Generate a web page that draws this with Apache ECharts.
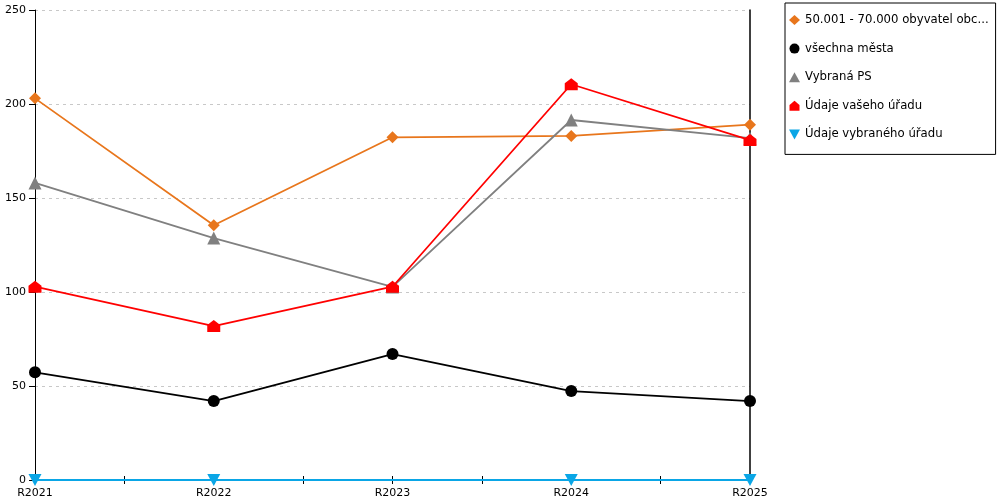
<!DOCTYPE html>
<html>
<head>
<meta charset="utf-8">
<script src="https://cdn.jsdelivr.net/npm/echarts@6/dist/echarts.min.js"></script>
<style>
html,body{margin:0;padding:0;background:#fff;}
#chart{width:1000px;height:500px;}
</style>
</head>
<body>
<div id="chart"></div>
<script>
const categories = ['R2021', 'R2022', 'R2023', 'R2024', 'R2025'];
const seriesNames = [
  '50.001 - 70.000 obyvatel obc...',
  'všechna města',
  'Vybraná PS',
  'Údaje vašeho úřadu',
  'Údaje vybraného úřadu'
];
const obceValues = [203, 135.5, 182.3, 183, 189];
const mestaValues = [57.3, 42, 67, 47.3, 42];
const psValues = [158, 128.7, 102.7, 191.5, 181.8];
const vasValues = [102.8, 81.9, 102.8, 210.5, 180.8];
const vybranyValues = [0, 0, null, 0, 0];
const yTicks = { min: 0, max: 250, interval: 50 };

const FONT = 'DejaVu Sans';
const colors = ['#E8761C', '#000000', '#808080', '#FF0000', '#0AA6E6'];
const symbols = [
  'diamond',
  'circle',
  'triangle',
  'path://M0,5 L6,0 L12,5 L12,12 L0,12 Z',
  'path://M0,0 L12,0 L6,11 Z'
];
const symbolSizes = [12, 12, 13, [13, 12], [13, 12]];
const valueSets = [obceValues, mestaValues, psValues, vasValues, vybranyValues];

// helper axis with slots at every category and every midpoint (for tick marks)
const tickSlots = [];
categories.forEach((c, i) => {
  tickSlots.push(c);
  if (i < categories.length - 1) tickSlots.push(c + '_mid');
});

const chart = echarts.init(document.getElementById('chart'), null, { renderer: 'canvas' });

const hiddenTickAxis = (inside) => ({
  type: 'category',
  data: tickSlots,
  boundaryGap: false,
  position: 'bottom',
  axisLine: { show: false },
  axisLabel: { show: false },
  splitLine: { show: false },
  axisTick: { show: true, inside: inside, length: 4, interval: 0, lineStyle: { color: '#000', width: 1 } }
});

chart.setOption({
  animation: false,
  textStyle: { fontFamily: FONT },
  grid: { left: 35, right: 250, top: 10, bottom: 20, containLabel: false },
  legend: {
    orient: 'vertical',
    left: 785,
    top: 3,
    padding: [11, 7, 14, 4],
    itemGap: 16.6,
    itemWidth: 11,
    itemHeight: 10,
    borderColor: '#000',
    borderWidth: 1,
    backgroundColor: '#fff',
    textStyle: { fontFamily: FONT, fontSize: 11.7, color: '#000' },
    data: seriesNames.map((n, i) => ({ name: n, icon: symbols[i] }))
  },
  xAxis: [
    {
      type: 'category',
      data: categories,
      boundaryGap: false,
      axisLine: { show: true, lineStyle: { color: '#000', width: 1 } },
      axisTick: { show: false },
      axisLabel: { color: '#000', fontFamily: FONT, fontSize: 11, margin: 8, interval: 0 },
      splitLine: { show: false }
    },
    hiddenTickAxis(false),
    hiddenTickAxis(true)
  ],
  yAxis: [
    {
      type: 'value',
      min: yTicks.min,
      max: yTicks.max,
      interval: yTicks.interval,
      axisLine: { show: true, lineStyle: { color: '#000', width: 1 } },
      axisTick: { show: true, length: 6, lineStyle: { color: '#000' } },
      axisLabel: { color: '#000', fontFamily: FONT, fontSize: 11, margin: 9 },
      splitLine: { show: true, lineStyle: { color: '#c8c8c8', type: [3, 4], width: 1 } }
    },
    {
      type: 'value',
      position: 'right',
      min: yTicks.min,
      max: yTicks.max,
      interval: yTicks.interval,
      axisLine: { show: true, lineStyle: { color: '#000', width: 1.5 } },
      axisTick: { show: false },
      axisLabel: { show: false },
      splitLine: { show: false }
    }
  ],
  series: seriesNames.map((n, i) => ({
    name: n,
    type: 'line',
    data: valueSets[i],
    connectNulls: true,
    symbol: symbols[i],
    symbolSize: symbolSizes[i],
    showAllSymbol: true,
    color: colors[i],
    itemStyle: { color: colors[i] },
    lineStyle: { color: colors[i], width: 1.8 },
    emphasis: { disabled: true },
    z: 2 + i
  }))
});
</script>
</body>
</html>
